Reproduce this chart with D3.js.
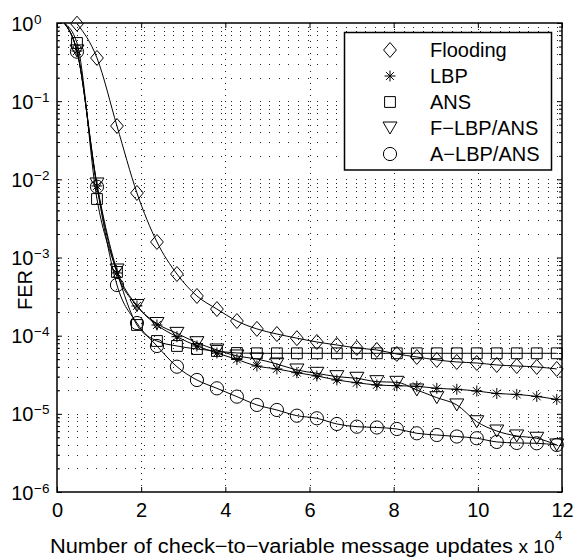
<!DOCTYPE html>
<html>
<head>
<meta charset="utf-8">
<script src="https://cdn.jsdelivr.net/npm/d3@7"></script>
<style>
  html, body { margin: 0; padding: 0; background: #fff; }
  svg { display: block; }
  text { font-family: "Liberation Sans", Arial, Helvetica, sans-serif; fill: #000; }
</style>
</head>
<body>
<svg id="chart" width="587" height="558"></svg>
<script>
// Check-to-variable message updates (x 10^4) at which FER was measured
const updates = [0.475, 0.95, 1.425, 1.9, 2.375, 2.85, 3.325, 3.8, 4.275, 4.75,
                 5.225, 5.7, 6.175, 6.65, 7.125, 7.6, 8.075, 8.55, 9.025, 9.5,
                 9.975, 10.45, 10.925, 11.4, 11.875];

// Frame error rate per schedule
const flooding = [0.98, 0.357, 0.0481, 0.00669, 0.00158, 6.15e-4, 3.22e-4, 2.19e-4, 1.54e-4, 1.22e-4,
                  1.05e-4, 9.3e-5, 8.3e-5, 7.6e-5, 6.96e-5, 6.56e-5, 5.83e-5, 5.34e-5, 4.89e-5, 4.61e-5,
                  4.47e-5, 4.22e-5, 4.09e-5, 3.98e-5, 3.75e-5];
const lbp      = [0.438, 0.00822, 6.34e-4, 2.40e-4, 1.37e-4, 9.7e-5, 7.38e-5, 6.0e-5, 4.96e-5, 4.09e-5,
                  3.75e-5, 3.36e-5, 3.05e-5, 2.71e-5, 2.50e-5, 2.34e-5, 2.29e-5, 2.25e-5, 2.12e-5, 2.06e-5,
                  1.96e-5, 1.82e-5, 1.77e-5, 1.67e-5, 1.53e-5];
const ans      = [0.555, 0.0056, 6.53e-4, 1.37e-4, 8.55e-5, 7.38e-5, 6.75e-5, 6.37e-5, 6.0e-5, 5.95e-5,
                  5.95e-5, 5.95e-5, 5.95e-5, 5.95e-5, 5.95e-5, 5.95e-5, 5.95e-5, 5.95e-5, 5.95e-5, 5.95e-5,
                  5.95e-5, 5.95e-5, 5.95e-5, 5.95e-5, 5.95e-5];
const flbpAns  = [0.44, 0.00872, 6.92e-4, 2.43e-4, 1.43e-4, 1.07e-4, 8.13e-5, 6.56e-5, 5.5e-5, 5.03e-5,
                  4.34e-5, 3.64e-5, 3.30e-5, 2.99e-5, 2.85e-5, 2.58e-5, 2.53e-5, 2.02e-5, 1.61e-5, 1.30e-5,
                  7.93e-6, 6.03e-6, 5.21e-6, 4.87e-6, 4.0e-6];
const albpAns  = [0.43, 0.00805, 4.45e-4, 1.45e-4, 7.38e-5, 4.01e-5, 2.71e-5, 2.12e-5, 1.66e-5, 1.30e-5,
                  1.12e-5, 9.47e-6, 8.77e-6, 7.42e-6, 6.85e-6, 6.69e-6, 6.40e-6, 5.64e-6, 5.36e-6, 5.13e-6,
                  4.87e-6, 4.37e-6, 4.24e-6, 4.20e-6, 4.0e-6];

// Point where the layered-schedule curves enter the frame (updates, FER)
const leadIn = [0.17, 1];

const seriesNames = ["Flooding", "LBP", "ANS", "F\u2212LBP/ANS", "A\u2212LBP/ANS"];
const seriesMarkers = ["diamond", "star", "square", "triangle", "circle"];
const seriesValues = [flooding, lbp, ans, flbpAns, albpAns];
const seriesLeadIn = [false, true, true, true, true];

const xTicks = [0, 2, 4, 6, 8, 10, 12];
const xGrid = [2, 4, 6, 8, 10];
const yDecades = [1, 1e-1, 1e-2, 1e-3, 1e-4, 1e-5, 1e-6];
const yExponents = ["0", "\u22121", "\u22122", "\u22123", "\u22124", "\u22125", "\u22126"];
const yLabel = "FER";
const xLabel = "Number of check\u2212to\u2212variable message updates";
const xScaleBase = "x 10";
const xScaleExp = "4";

const FS = 20;
const svg = d3.select("#chart");
const L = 57, R = 562, T = 23, B = 492;

const x = d3.scaleLinear().domain([0, 12]).range([L, R]);
const y = d3.scaleLog().domain([1e-6, 1]).range([B, T]);

// Dotted grid
const grid = svg.append("g").attr("shape-rendering", "crispEdges");
const hGrid = y.ticks().filter(v => v > 1e-6 * 1.001 && v < 0.999);
grid.selectAll("line.h").data(hGrid).join("line")
  .attr("class", "h")
  .attr("x1", L + 1).attr("x2", R)
  .attr("y1", d => Math.round(y(d)) + 0.5).attr("y2", d => Math.round(y(d)) + 0.5)
  .attr("stroke", "#222").attr("stroke-width", 1)
  .attr("stroke-dasharray", "1,8.6");
grid.selectAll("line.v").data(xGrid).join("line")
  .attr("class", "v")
  .attr("x1", d => Math.round(x(d)) + 0.5).attr("x2", d => Math.round(x(d)) + 0.5)
  .attr("y1", T).attr("y2", B)
  .attr("stroke", "#222").attr("stroke-width", 1)
  .attr("stroke-dasharray", "1,5");

// Axes with inward ticks on all four sides
function styleAxis(g) {
  g.select(".domain").remove();
  g.selectAll(".tick line").attr("stroke", "#000").attr("stroke-width", 1);
}
const minorY = y.ticks().filter(v => !yDecades.some(d => Math.abs(v - d) / d < 1e-6));

svg.append("g").attr("transform", `translate(0,${B})`)
  .call(d3.axisBottom(x).tickValues(xTicks).tickSizeInner(-5).tickSizeOuter(0).tickPadding(10.5).tickFormat(d3.format("d")))
  .call(styleAxis)
  .call(g => g.selectAll("text").attr("font-size", FS).attr("font-family", "Liberation Sans, Arial, sans-serif"));
svg.append("g").attr("transform", `translate(0,${T})`)
  .call(d3.axisTop(x).tickValues(xTicks).tickSizeInner(-5).tickSizeOuter(0).tickFormat(""))
  .call(styleAxis);
svg.append("g").attr("transform", `translate(${L},0)`)
  .call(d3.axisLeft(y).tickValues(yDecades).tickSizeInner(-5).tickSizeOuter(0).tickFormat(""))
  .call(styleAxis);
svg.append("g").attr("transform", `translate(${R},0)`)
  .call(d3.axisRight(y).tickValues(yDecades).tickSizeInner(-5).tickSizeOuter(0).tickFormat(""))
  .call(styleAxis);
svg.append("g").attr("transform", `translate(${L},0)`)
  .call(d3.axisLeft(y).tickValues(minorY).tickSizeInner(-3).tickSizeOuter(0).tickFormat(""))
  .call(styleAxis);
svg.append("g").attr("transform", `translate(${R},0)`)
  .call(d3.axisRight(y).tickValues(minorY).tickSizeInner(-3).tickSizeOuter(0).tickFormat(""))
  .call(styleAxis);

// Decade labels 10^n
const yl = svg.append("g");
yl.selectAll("text.base").data(yDecades).join("text")
  .attr("class", "base")
  .attr("x", 33.5).attr("y", d => y(d) + 7.5)
  .attr("text-anchor", "end").attr("font-size", FS)
  .text("10");
yl.selectAll("text.exp").data(yDecades).join("text")
  .attr("class", "exp")
  .attr("x", 34).attr("y", d => y(d) + 0.5)
  .attr("font-size", 13.5)
  .text((d, i) => yExponents[i]);

// Frame
svg.append("rect")
  .attr("x", L).attr("y", T).attr("width", R - L).attr("height", B - T)
  .attr("fill", "none").attr("stroke", "#000").attr("stroke-width", 1.5);

// Curves
svg.append("clipPath").attr("id", "plotclip")
  .append("rect").attr("x", L).attr("y", T).attr("width", R - L).attr("height", B - T);
const line = d3.line().x(d => x(d[0])).y(d => y(d[1])).curve(d3.curveMonotoneX);
const curves = svg.append("g").attr("clip-path", "url(#plotclip)");
seriesValues.forEach((vals, i) => {
  const pts = updates.map((u, j) => [u, vals[j]]);
  if (seriesLeadIn[i]) pts.unshift(leadIn);
  curves.append("path").datum(pts)
    .attr("d", line)
    .attr("fill", "none").attr("stroke", "#000").attr("stroke-width", 1);
});

// Marker shapes
function markerPath(kind) {
  const p = d3.path();
  if (kind === "diamond") {
    p.moveTo(0, -7.5); p.lineTo(6.4, 0); p.lineTo(0, 7.5); p.lineTo(-6.4, 0); p.closePath();
  } else if (kind === "square") {
    p.rect(-5.4, -5.4, 10.8, 10.8);
  } else if (kind === "triangle") {
    p.moveTo(-7, -6); p.lineTo(7, -6); p.lineTo(0, 6); p.closePath();
  } else if (kind === "circle") {
    p.arc(0, 0, 6.6, 0, 2 * Math.PI); p.closePath();
  } else if (kind === "star") {
    p.moveTo(0, -5.5); p.lineTo(0, 5.5);
    p.moveTo(-5.5, 0); p.lineTo(5.5, 0);
    p.moveTo(-3.9, -3.9); p.lineTo(3.9, 3.9);
    p.moveTo(-3.9, 3.9); p.lineTo(3.9, -3.9);
  }
  return p.toString();
}

const marks = svg.append("g");
seriesValues.forEach((vals, i) => {
  marks.append("g").selectAll("path").data(updates.map((u, j) => [u, vals[j]])).join("path")
    .attr("transform", d => `translate(${x(d[0])},${y(d[1])})`)
    .attr("d", markerPath(seriesMarkers[i]))
    .attr("fill", "none").attr("stroke", "#000").attr("stroke-width", 1);
});

// Legend
const lg = svg.append("g");
lg.append("rect")
  .attr("x", 344.5).attr("y", 32.5).attr("width", 207).attr("height", 137.5)
  .attr("fill", "#fff").attr("stroke", "#000").attr("stroke-width", 1.5);
const rows = lg.selectAll("g.row").data(seriesNames).join("g")
  .attr("class", "row")
  .attr("transform", (d, i) => `translate(0,${50 + i * 26})`);
rows.append("path")
  .attr("transform", "translate(390,0)")
  .attr("d", (d, i) => markerPath(seriesMarkers[i]))
  .attr("fill", "none").attr("stroke", "#000").attr("stroke-width", 1);
rows.append("text")
  .attr("x", 430).attr("y", 7.2)
  .attr("font-size", FS)
  .text(d => d);

// Axis titles
svg.append("text")
  .attr("transform", "translate(31.5,290) rotate(-90)")
  .attr("text-anchor", "middle").attr("font-size", FS)
  .text(yLabel);
svg.append("text")
  .attr("x", 50).attr("y", 553.3)
  .attr("font-size", FS)
  .attr("textLength", 463).attr("lengthAdjust", "spacingAndGlyphs")
  .text(xLabel);
svg.append("text")
  .attr("x", 554.5).attr("y", 553.3)
  .attr("text-anchor", "end")
  .attr("font-size", 19)
  .text(xScaleBase);
svg.append("text")
  .attr("x", 555).attr("y", 540)
  .attr("font-size", 13)
  .text(xScaleExp);
</script>
</body>
</html>
